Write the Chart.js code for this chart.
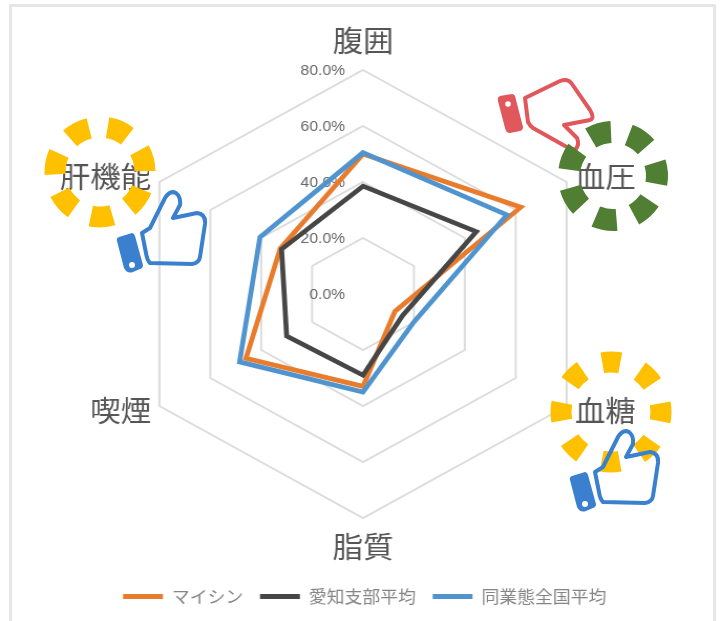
<!DOCTYPE html>
<html lang="ja">
<head>
<meta charset="utf-8">
<title>健診項目レーダー</title>
<script src="https://cdn.jsdelivr.net/npm/chart.js@4"></script>
<style>
  html, body { margin: 0; padding: 0; background: #fff; overflow: hidden; }
  #stage { position: relative; width: 721px; height: 621px; overflow: hidden; }
  #radar { position: absolute; left: 0; top: 0; transform-origin: 0 0; transform: scaleX(1.0495); }
  #art { position: absolute; left: 0; top: 0; }
</style>
</head>
<body>
<div id="stage">
  <canvas id="radar" width="687" height="621" style="width:687px;height:621px"></canvas>
  <svg id="art" width="721" height="621" viewBox="0 0 721 621" xmlns="http://www.w3.org/2000/svg">
    <!-- panel edge -->
    <path d="M10.5 621V5.5H714.5V621" fill="none" stroke="#e6e6e6" stroke-width="3"/>
    <!-- soft ends of the 肝機能 caption -->
    <rect x="49" y="165" width="10" height="30" fill="#fff"/>
    <rect x="149" y="165" width="9" height="14" fill="#fff"/>

    <!-- 肝機能: yellow ring and thumb up -->
    <circle cx="100" cy="172" r="45" fill="none" stroke="#ffc000" stroke-width="21" pathLength="7" stroke-dasharray="0.54 0.46" transform="rotate(-80.3 100 172)"/>
    <g id="thumbUp">
      <path d="M117 241 Q116 238 119 237 L132 233 Q134 233 135 236 L143 265 Q143 268 140 269 L133 272 Q127 274 124 268 Z" fill="#3a80cf"/>
      <circle cx="132" cy="265" r="3" fill="#fff"/>
      <path d="M142 233 L150 228 L165 198 Q170 190 176 193 Q181 197 180 205 L173 218 L197 213 Q206 214 205 224 L200 257 Q199 263 192 264 L150 263 Q147 260 146 253 Z" fill="none" stroke="#3a80cf" stroke-width="4" stroke-linejoin="round"/>
    </g>

    <!-- 血圧: green ring and thumb down -->
    <path d="M525 98 L560 81 Q568 78 572 84 L590 110 Q595 118 590 120 L564 125 L577 138 Q580 145 575 150 L565 146 L533 128 Q530 126 528 122 Z" fill="none" stroke="#e0575c" stroke-width="4" stroke-linejoin="round"/>
    <path d="M498 101 Q497 97 500 96 L512 94 Q514 94 515 96 L523 127 Q523 130 520 131 L510 133 Q506 133 505 128 Z" fill="#e0575c"/>
    <circle cx="508" cy="104" r="2.8" fill="#fff"/>
    <circle cx="613" cy="176" r="44" fill="none" stroke="#507e32" stroke-width="22" pathLength="7" stroke-dasharray="0.54 0.46" transform="rotate(-69 613 176)"/>

    <!-- 血糖: yellow ring and thumb up -->
    <circle cx="611" cy="412" r="50" fill="none" stroke="#ffc000" stroke-width="21" pathLength="8" stroke-dasharray="0.46 0.54" transform="rotate(-100 611 412)"/>
    <use href="#thumbUp" transform="translate(453 239)"/>
  </svg>
</div>
<script>
// Share of members flagged per check item, in percent
const categories = ['腹囲', '血圧', '血糖', '脂質', '喫煙', '肝機能'];
const mycin = [50, 62, 12.5, 33, 46, 32.5];
const aichiAverage = [38.5, 44.5, 15.5, 29, 30, 32];
const nationalAverage = [50.5, 56.5, 20, 35, 48.5, 40.5];
const seriesNames = ['マイシン', '愛知支部平均', '同業態全国平均'];
const seriesColors = ['#e97b2d', '#464646', '#4f94cf'];
const tickValues = [0, 20, 40, 60, 80];

const jpFont = '"Noto Sans CJK JP", "Noto Sans", sans-serif';
const horizontalStretch = 1.0495;

// Category captions and percent ticks sit under the data lines
const radarText = {
  id: 'radarText',
  beforeDatasetsDraw(chart) {
    const s = chart.scales.r;
    const ctx = chart.ctx;
    ctx.save();
    ctx.fillStyle = '#666';
    ctx.font = '15px "Liberation Sans", Arial, sans-serif';
    ctx.textAlign = 'right';
    ctx.textBaseline = 'middle';
    tickValues.forEach(v => {
      const y = s.yCenter - s.getDistanceFromCenterForValue(v) + 1;
      ctx.fillText(v.toFixed(1) + '%', s.xCenter - 17, y);
    });
    ctx.fillStyle = '#555';
    ctx.font = '29px ' + jpFont;
    categories.forEach((label, i) => {
      const p = s.getPointPosition(i, s.drawingArea);
      const dx = p.x - s.xCenter;
      const dy = p.y - s.yCenter;
      if (Math.abs(dx) < 1) {
        ctx.textAlign = 'center';
        ctx.fillText(label, p.x, p.y + Math.sign(dy) * 29);
      } else {
        ctx.textAlign = dx > 0 ? 'left' : 'right';
        ctx.fillText(label, p.x + Math.sign(dx) * 8, p.y + Math.sign(dy) * 5);
      }
    });
    ctx.restore();
  }
};

const makeDataset = (label, data, color, order) => ({
  label, data, order,
  borderColor: color,
  backgroundColor: color,
  borderWidth: 4.7,
  borderJoinStyle: 'miter',
  fill: false,
  tension: 0,
  pointRadius: 0
});

new Chart(document.getElementById('radar'), {
  type: 'radar',
  data: {
    labels: categories,
    datasets: [
      makeDataset(seriesNames[0], mycin, seriesColors[0], 3),
      makeDataset(seriesNames[1], aichiAverage, seriesColors[1], 2),
      makeDataset(seriesNames[2], nationalAverage, seriesColors[2], 1)
    ]
  },
  options: {
    responsive: false,
    animation: false,
    layout: { padding: { left: 8, bottom: 6 } },
    plugins: {
      tooltip: { enabled: false },
      legend: {
        position: 'bottom',
        labels: {
          boxWidth: 38,
          boxHeight: 5,
          padding: 16,
          color: '#858585',
          font: { family: jpFont, size: 17 },
          sort: (a, b) => a.datasetIndex - b.datasetIndex,
          generateLabels(chart) {
            return Chart.defaults.plugins.legend.labels.generateLabels(chart)
              .map(item => ({ ...item, lineWidth: 0 }));
          }
        }
      }
    },
    scales: {
      r: {
        min: 0,
        max: 80,
        ticks: { display: false, stepSize: 20 },
        pointLabels: { display: false },
        angleLines: { display: false },
        grid: { color: '#dcdcdc', lineWidth: 2 },
        afterFit(scale) {
          scale.drawingArea = 224;
          scale.xCenter = 363 / horizontalStretch;
          scale.yCenter = 294;
        }
      }
    }
  },
  plugins: [radarText]
});
</script>
</body>
</html>
